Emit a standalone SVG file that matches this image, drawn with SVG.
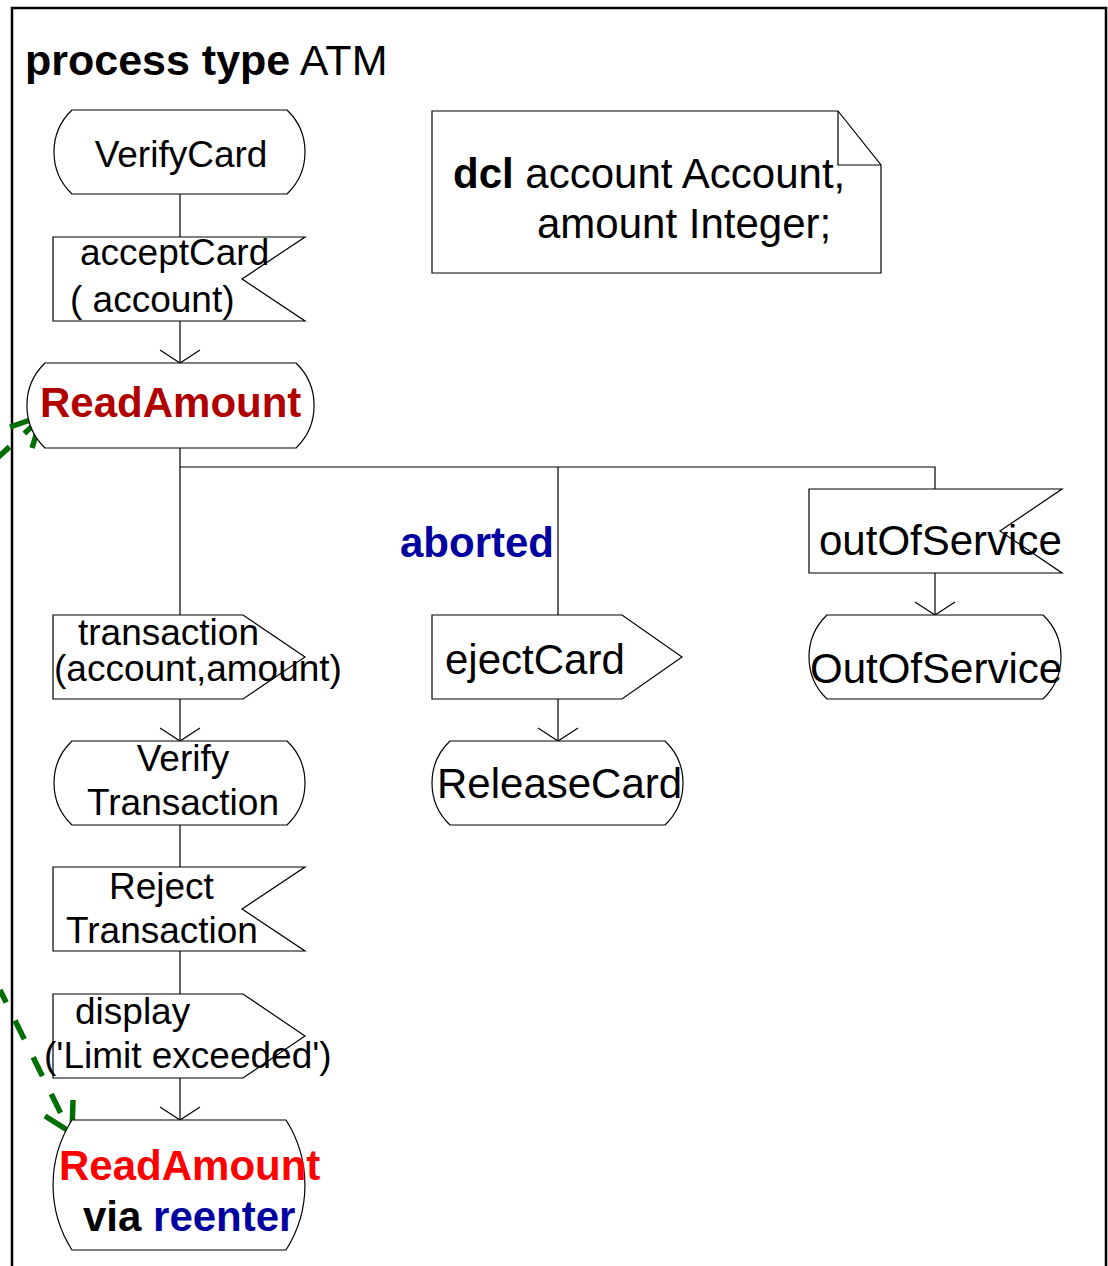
<svg xmlns="http://www.w3.org/2000/svg" width="1108" height="1266" viewBox="0 0 1108 1266">
  <style>
    text { font-family: "Liberation Sans", Arial, sans-serif; fill: #000; }
    .shape { fill: #fff; stroke: #000; stroke-width: 1.2; }
    .line { fill: none; stroke: #000; stroke-width: 1.2; }
    .t37 { font-size: 37px; }
    .t42 { font-size: 42px; }
    .b { font-weight: bold; }
    .red { fill: #ff0000; }
    .darkred { fill: #b00000; }
    .blue { fill: #0000a0; }
    .reenter { fill: none; stroke: #006e00; stroke-width: 5.5; stroke-dasharray: 21 20; }
    .reenter-head { fill: none; stroke: #006e00; stroke-width: 5.5; stroke-linejoin: miter; }
  </style>
  <defs>
    <marker id="open" markerUnits="userSpaceOnUse" viewBox="-15 -22 17 44" refX="0" refY="0" markerWidth="17" markerHeight="44" orient="auto" overflow="visible">
      <path d="M-13,-20 L0,0 L-13,20" fill="none" stroke="#000" stroke-width="1.2"/>
    </marker>
  </defs>

  <rect width="1108" height="1266" fill="#fff"/>

  <!-- process frame (open at the bottom) -->
  <path d="M12,1270 V8 H1106 V1270" fill="none" stroke="#000" stroke-width="2.5"/>
  <text x="25" y="75" style="font-size:43px"><tspan class="b">process type</tspan> ATM</text>

  <!-- flow lines -->
  <g id="connectors">
    <path class="line" d="M180,194 V237"/>
    <path class="line" d="M180,321 V363" marker-end="url(#open)"/>
    <path class="line" d="M180,448 V615"/>
    <path class="line" d="M180,467 H558" stroke-width="2"/>
    <path class="line" d="M558,467 H935 V489"/>
    <path class="line" d="M558,467 V615"/>
    <path class="line" d="M935,573 V615" marker-end="url(#open)"/>
    <path class="line" d="M180,699 V741" marker-end="url(#open)"/>
    <path class="line" d="M558,699 V741" marker-end="url(#open)"/>
    <path class="line" d="M180,825 V867"/>
    <path class="line" d="M180,951 V994"/>
    <path class="line" d="M180,1078 V1120" marker-end="url(#open)"/>
    <!-- re-entry arrows -->
    <path class="reenter" d="M-6,461 L38,421"/>
    <path class="reenter-head" d="M10,427 L42,416 L32,448"/>
    <path class="reenter" d="M0,990 L66,1124" stroke-dashoffset="7"/>
    <path class="reenter-head" d="M73,1100 L72,1133 L45,1116"/>
  </g>

  <g id="dcl">
    <path class="shape" d="M432,111 H838 L881,165 V273 H432 Z"/>
    <path class="line" d="M838,111 V165 H881"/>
    <text class="t42" x="453" y="188"><tspan class="b">dcl</tspan> account Account,</text>
    <text class="t42" x="537" y="238">amount Integer;</text>
  </g>

  <g id="verifyCard">
    <path class="shape" d="M72,110 H287 A58,58 0 0 1 287,194 H72 A58,58 0 0 1 72,110 Z"/>
    <text class="t37" x="181" y="167" text-anchor="middle">VerifyCard</text>
  </g>

  <g id="acceptCard">
    <path class="shape" d="M53,237 H305 L242,279 L305,321 H53 Z"/>
    <text class="t37" x="80" y="265">acceptCard</text>
    <text class="t37" x="70" y="312">( account)</text>
  </g>

  <g id="readAmount">
    <path class="shape" d="M45,363 H296 A59,59 0 0 1 296,448 H45 A59,59 0 0 1 45,363 Z"/>
    <text class="t42 b darkred" x="40" y="417">ReadAmount</text>
  </g>

  <text id="aborted" class="t42 b blue" x="400" y="557">aborted</text>

  <g id="outOfServiceInput">
    <path class="shape" d="M809,489 H1062 L1000,531 L1062,573 H809 Z"/>
    <text class="t42" x="819" y="555">outOfService</text>
  </g>

  <g id="outOfServiceState">
    <path class="shape" d="M827,615 H1043 A58,58 0 0 1 1043,699 H827 A58,58 0 0 1 827,615 Z"/>
    <text class="t42" x="810" y="683">OutOfService</text>
  </g>

  <g id="transaction">
    <path class="shape" d="M53,615 H243 L305,657 L243,699 H53 Z"/>
    <text class="t37" x="78" y="645">transaction</text>
    <text class="t37" x="54" y="681">(account,amount)</text>
  </g>

  <g id="ejectCard">
    <path class="shape" d="M432,615 H622 L682,657 L622,699 H432 Z"/>
    <text class="t42" x="445" y="674">ejectCard</text>
  </g>

  <g id="verifyTransaction">
    <path class="shape" d="M72,741 H287 A58,58 0 0 1 287,825 H72 A58,58 0 0 1 72,741 Z"/>
    <text class="t37" x="183" y="771" text-anchor="middle">Verify</text>
    <text class="t37" x="183" y="815" text-anchor="middle">Transaction</text>
  </g>

  <g id="releaseCard">
    <path class="shape" d="M450,741 H665 A58,58 0 0 1 665,825 H450 A58,58 0 0 1 450,741 Z"/>
    <text class="t42" x="437" y="798">ReleaseCard</text>
  </g>

  <g id="rejectTransaction">
    <path class="shape" d="M53,867 H305 L242,909 L305,951 H53 Z"/>
    <text class="t37" x="109" y="899">Reject</text>
    <text class="t37" x="66" y="943">Transaction</text>
  </g>

  <g id="display">
    <path class="shape" d="M53,994 H243 L305,1036 L243,1078 H53 Z"/>
    <text class="t37" x="75" y="1024">display</text>
    <text class="t37" x="44" y="1068">('Limit exceeded')</text>
  </g>

  <g id="readAmountReenter">
    <path class="shape" d="M72,1120 H286 A121,121 0 0 1 286,1250 H72 A121,121 0 0 1 72,1120 Z"/>
    <text class="t42 b red" x="59" y="1180">ReadAmount</text>
    <text class="t42 b" x="83" y="1231">via <tspan class="blue">reenter</tspan></text>
  </g>
</svg>
